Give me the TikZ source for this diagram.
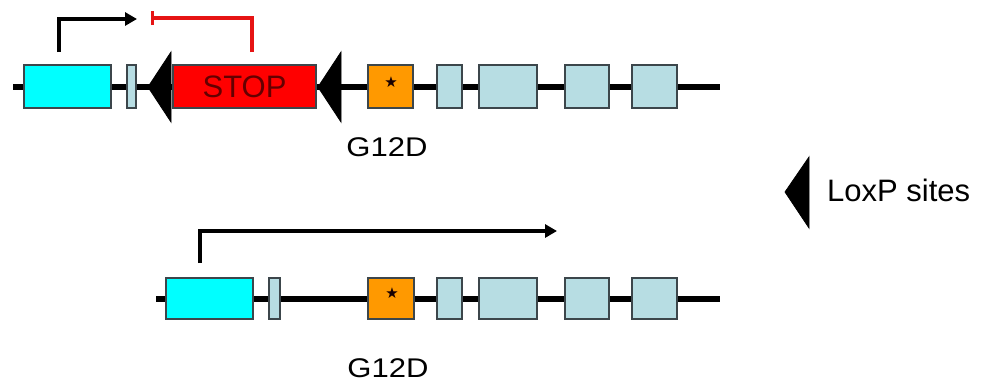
\documentclass[tikz,border=0pt]{standalone}
\usepackage{fontspec}
\setmainfont{Liberation Sans}
\newfontfamily\symfont{DejaVu Sans}
\usetikzlibrary{arrows.meta}
\definecolor{exoncyan}{RGB}{0,255,255}
\definecolor{exonpale}{RGB}{183,221,227}
\definecolor{exonorange}{RGB}{255,153,0}
\definecolor{stopred}{RGB}{255,0,0}
\definecolor{stoptext}{RGB}{100,0,0}
\definecolor{boxedge}{RGB}{60,70,75}
\definecolor{inhibred}{RGB}{230,20,20}
\tikzset{
  exon/.style={draw=boxedge, line width=1.2pt, inner sep=0pt, outer sep=0pt, minimum height=#1},
  exon/.default=43pt,
  dna/.style={line width=6.5pt, black},
  prom/.style={line width=3.8pt, black, -{Triangle[length=12pt,width=13pt]}},
  inhib/.style={line width=3.2pt, inhibred, -{Bar[width=14pt]}},
  loxp/.style={fill=black, draw=black, line width=0.8pt},
  lbl/.style={font=\fontsize{27}{30}\selectfont, inner sep=0pt},
  mut/.style={font=\symfont\fontsize{15}{15}\selectfont, inner sep=0pt, text=black!90!red}
}
\begin{document}
\begin{tikzpicture}[x=1pt,y=-1pt]
\useasboundingbox (0,0) rectangle (984,389);
% ---------- top row ----------
\coordinate (t0) at (13,87);
\coordinate (t1) at (720,87);
\draw[dna] (t0) -- (t1);
\node[exon, fill=exoncyan, minimum width=87pt] (tcyan) at (67.5,86.5) {};
\node[exon, fill=exonpale, minimum width=9pt] (tp1) at (131.5,86.5) {};
\node[exon, fill=stopred, minimum width=143pt, font=\fontsize{31}{34}\selectfont, text=stoptext] (tstop) at (244.5,86.5) {STOP};
\node[exon, fill=exonorange, minimum width=45pt] (tor) at (390.5,86.5) {};
\node[mut] (tstar) at (391,82) {★};
\node[exon, fill=exonpale, minimum width=25pt] (tp2) at (449.5,86.5) {};
\node[exon, fill=exonpale, minimum width=58pt] (tp3) at (508,86.5) {};
\node[exon, fill=exonpale, minimum width=44pt] (tp4) at (587,86.5) {};
\node[exon, fill=exonpale, minimum width=45pt] (tp5) at (654.5,86.5) {};
\fill[loxp] (148,87) -- (171,52) -- (171,122) -- cycle;
\fill[loxp] (318,87) -- (341,52) -- (341,122) -- cycle;
% promoter arrow (top)
\coordinate (tpa) at (59,52);
\coordinate (tpb) at (137,19);
\draw[prom] (tpa) |- (tpb);
% inhibition (top)
\coordinate (tia) at (252,52);
\coordinate (tib) at (151,18);
\draw[inhib] (tia) |- (tib);
\node[lbl] (g1) at (387,147) {\scalebox{1.15}[1]{G12D}};
% ---------- legend ----------
\fill[loxp] (785,192) -- (809,157) -- (809,228) -- cycle;
\node[font=\fontsize{31}{34}\selectfont, inner sep=0pt, anchor=west] (lox) at (827,190) {LoxP sites};
% ---------- bottom row ----------
\coordinate (b0) at (156,299);
\coordinate (b1) at (720,299);
\draw[dna] (b0) -- (b1);
\node[exon=41pt, fill=exoncyan, minimum width=87pt] (bcyan) at (209.5,298.5) {};
\node[exon=41pt, fill=exonpale, minimum width=11pt] (bp1) at (274.5,298.5) {};
\node[exon=41pt, fill=exonorange, minimum width=46pt] (bor) at (391,298.5) {};
\node[mut] (bstar) at (392,293) {★};
\node[exon=41pt, fill=exonpale, minimum width=25pt] (bp2) at (449.5,298.5) {};
\node[exon=41pt, fill=exonpale, minimum width=58pt] (bp3) at (508,298.5) {};
\node[exon=41pt, fill=exonpale, minimum width=44pt] (bp4) at (587,298.5) {};
\node[exon=41pt, fill=exonpale, minimum width=45pt] (bp5) at (654.5,298.5) {};
\coordinate (bpa) at (200,263);
\coordinate (bpb) at (557,231);
\draw[prom] (bpa) |- (bpb);
\node[lbl] (g2) at (388,368) {\scalebox{1.15}[1]{G12D}};
\end{tikzpicture}
\end{document}
